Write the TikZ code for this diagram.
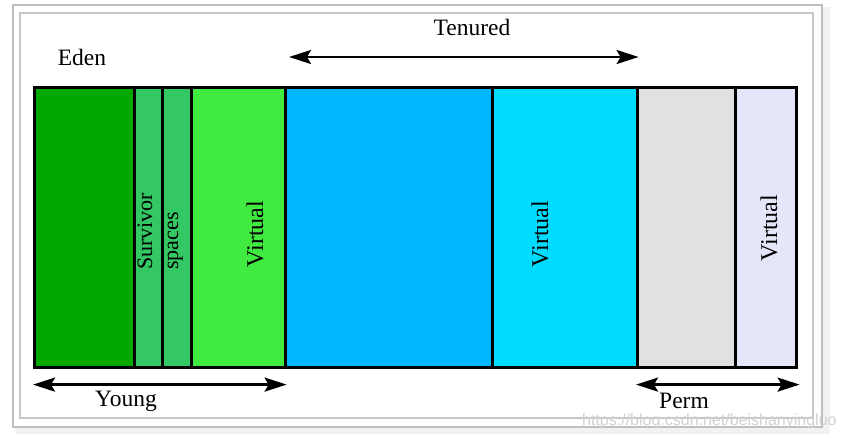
\documentclass[tikz,border=0pt]{standalone}
\usepackage{fontspec}
\setmainfont{Liberation Serif}
\newfontfamily\wmfont{Liberation Sans}
\usetikzlibrary{arrows.meta}
\definecolor{edenc}{RGB}{0,168,0}
\definecolor{survc}{RGB}{52,200,100}
\definecolor{yvirt}{RGB}{64,234,64}
\definecolor{tenc}{RGB}{0,182,255}
\definecolor{tvirt}{RGB}{0,220,255}
\definecolor{permc}{RGB}{225,225,225}
\definecolor{pvirt}{RGB}{230,230,250}
\tikzset{
  region/.style={draw=black, line width=2.6pt, inner sep=0pt, anchor=north west, minimum height=280pt},
  lbl/.style={font=\fontsize{23.5}{26}\selectfont, inner sep=0pt},
  vlbl/.style={font=\fontsize{24}{26}\selectfont, inner sep=0pt, rotate=90},
  svlbl/.style={font=\fontsize{22}{24}\selectfont, inner sep=0pt, rotate=90},
  span/.style={line width=2.6pt, arrows={Stealth[length=22pt,width=14pt,inset=4pt]-Stealth[length=22pt,width=14pt,inset=4pt]}}
}
\begin{document}
\begin{tikzpicture}[x=1pt,y=-1pt]
\useasboundingbox (0,0) rectangle (844,437);
% frame with shadow
\fill[black!10] (17,9) rectangle (828,432);
\fill[black!5] (15,7) rectangle (830,434);
\fill[white, draw=black!25, line width=1.2pt] (13,5) rectangle (822,427);
\draw[black!22, line width=1.2pt] (20,13) rectangle (813,418);
% regions
\node[region, fill=edenc, minimum width=100pt] (eden) at (33,86) {};
\node[region, fill=survc, minimum width=28pt] (s1) at (133,86) {};
\node[region, fill=survc, minimum width=29pt] (s2) at (161,86) {};
\node[region, fill=yvirt, minimum width=94pt] (yv) at (190,86) {};
\node[region, fill=tenc, minimum width=207pt] (ten) at (284,86) {};
\node[region, fill=tvirt, minimum width=145pt] (tv) at (491,86) {};
\node[region, fill=permc, minimum width=98pt] (perm) at (636,86) {};
\node[region, fill=pvirt, minimum width=61pt] (pv) at (734,86) {};
% rotated labels
\node[svlbl, anchor=base west] (survl) at (152,270) {Survivor};
\node[svlbl, anchor=base west] (spl) at (178,270) {spaces};
\node[vlbl] (yvl) at (255,234) {Virtual};
\node[vlbl] (tvl) at (540,234) {Virtual};
\node[vlbl] (pvl) at (769,228) {Virtual};
% top/bottom labels
\node[lbl] (edenl) at (82,57) {Eden};
\node[lbl] (tenl) at (472,27) {Tenured};
\node[lbl] (youngl) at (126,401) {Young};
\node[lbl] (perml) at (684,401) {Perm};
% span arrows
\draw[span] ([xshift=5pt,yshift=29pt]ten.north west) -- ([yshift=29pt]tv.north east);
\draw[span] ([yshift=-16pt]eden.south west) -- ([yshift=-16pt]yv.south east);
\draw[span] ([yshift=-16pt]perm.south west) -- ([xshift=2pt,yshift=-16pt]pv.south east);
% watermark
\node[font=\wmfont\fontsize{16}{18}\selectfont, text=black!18, inner sep=0pt, anchor=west] (wm) at (582,421) {https://blog.csdn.net/beishanyingluo};
\end{tikzpicture}
\end{document}
